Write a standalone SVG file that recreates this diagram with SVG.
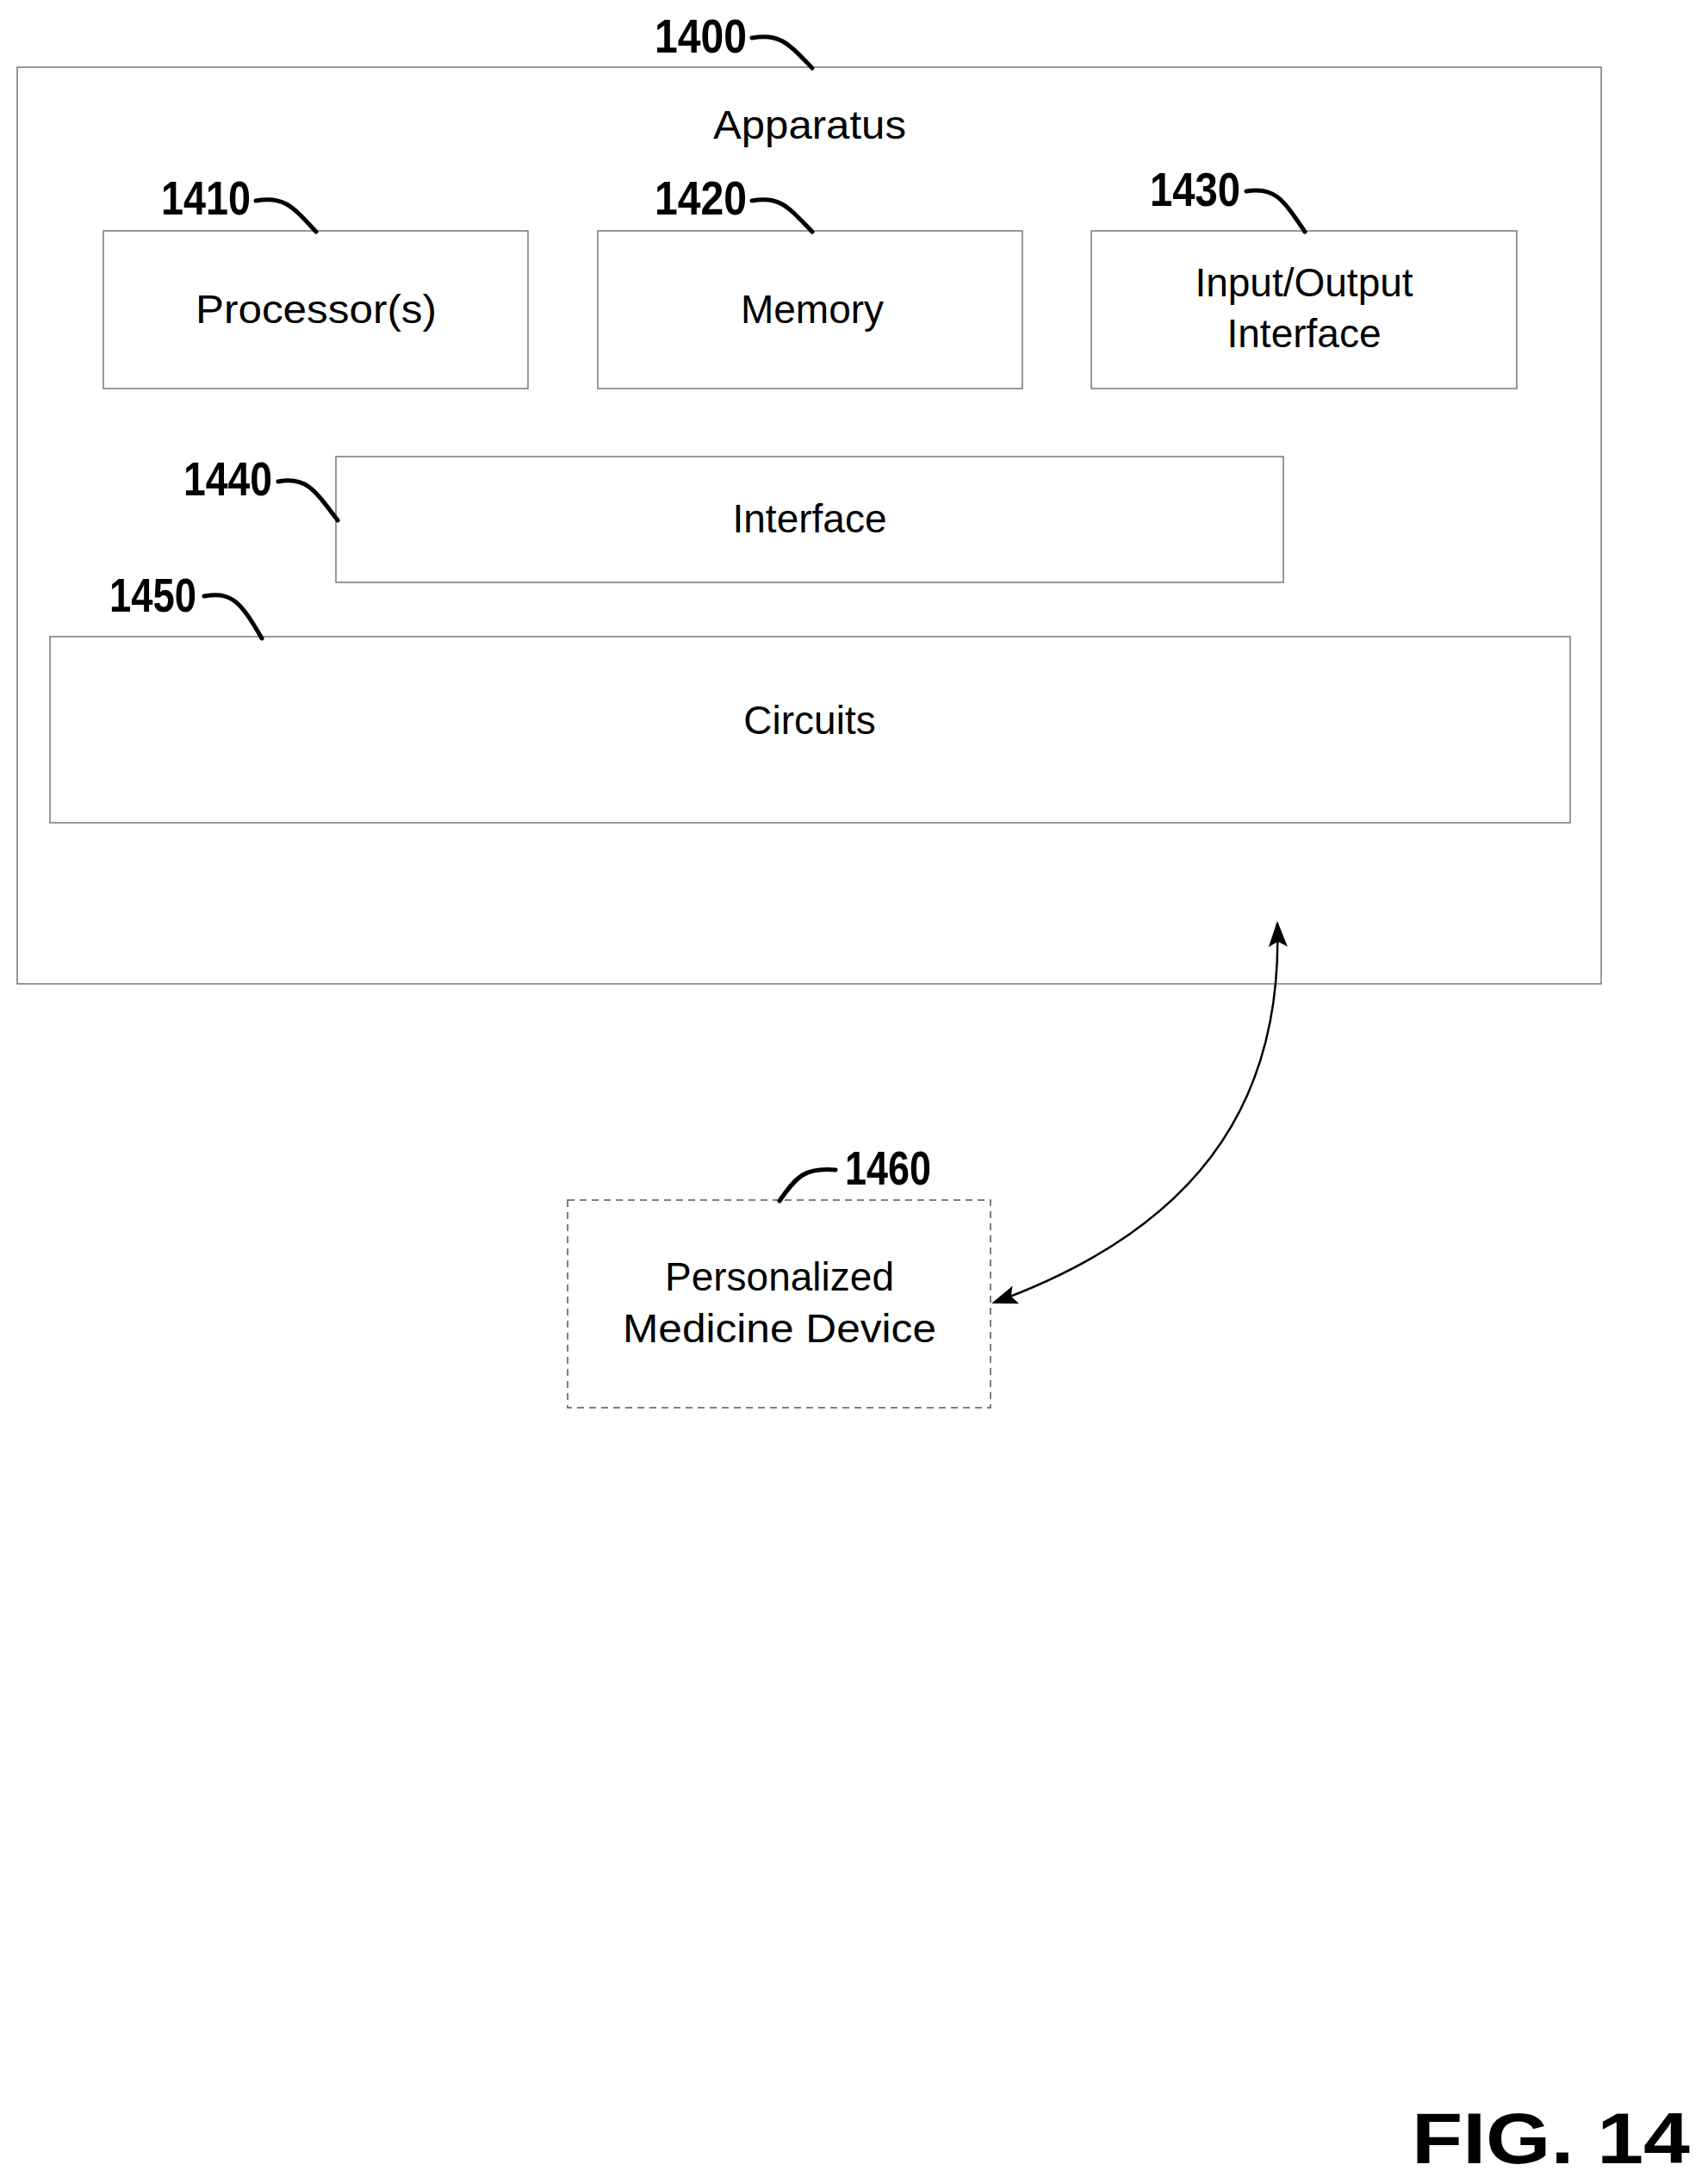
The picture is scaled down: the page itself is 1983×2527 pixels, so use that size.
<svg xmlns="http://www.w3.org/2000/svg" width="1983" height="2527" viewBox="0 0 1983 2527">
<defs>
<style>
.box{fill:#fff;stroke:#777;stroke-width:1.5}
.t{font-family:"Liberation Sans",Arial,sans-serif;font-size:46px;fill:#000;text-anchor:middle}
.n{font-family:"Liberation Sans",Arial,sans-serif;font-weight:bold;font-size:56px;fill:#000}
.ld{fill:none;stroke:#000;stroke-width:5;stroke-linecap:round}
</style>
<marker id="ah" viewBox="0 0 10 10" refX="9" refY="5" markerWidth="30" markerHeight="22" markerUnits="userSpaceOnUse" orient="auto-start-reverse" preserveAspectRatio="none"><path d="M0,0L10,5L0,10L2,5z" fill="#000"/></marker>
</defs>
<rect width="1983" height="2527" fill="#fff"/>
<g id="n1400">
<rect class="box" x="20" y="78" width="1839" height="1064"/>
<text class="n" x="760" y="61" textLength="107" lengthAdjust="spacingAndGlyphs">1400</text>
<path class="ld" d="M873,44 C905,38 915,50 943,79"/>
<text class="t" x="940" y="161" textLength="224" lengthAdjust="spacingAndGlyphs">Apparatus</text>
</g>
<g id="n1410">
<rect class="box" x="120" y="268" width="493" height="183"/>
<text class="t" x="367" y="375" textLength="280" lengthAdjust="spacingAndGlyphs">Processor(s)</text>
<text class="n" x="187" y="249" textLength="104" lengthAdjust="spacingAndGlyphs">1410</text>
<path class="ld" d="M297,233 C330,227 340,240 367,269"/>
</g>
<g id="n1420">
<rect class="box" x="694" y="268" width="493" height="183"/>
<text class="t" x="943" y="375">Memory</text>
<text class="n" x="760" y="249" textLength="107" lengthAdjust="spacingAndGlyphs">1420</text>
<path class="ld" d="M873,233 C905,227 915,240 943,269"/>
</g>
<g id="n1430">
<rect class="box" x="1267" y="268" width="494" height="183"/>
<text class="t" x="1514" y="344">Input/Output</text>
<text class="t" x="1514" y="403">Interface</text>
<text class="n" x="1335" y="239" textLength="105" lengthAdjust="spacingAndGlyphs">1430</text>
<path class="ld" d="M1447,222 C1480,216 1490,232 1515,269"/>
</g>
<g id="n1440">
<rect class="box" x="390" y="530" width="1100" height="146"/>
<text class="t" x="940" y="618">Interface</text>
<text class="n" x="213" y="575" textLength="103" lengthAdjust="spacingAndGlyphs">1440</text>
<path class="ld" d="M323,559 C355,553 365,568 392,604"/>
</g>
<g id="n1450">
<rect class="box" x="58" y="739" width="1765" height="216"/>
<text class="t" x="940" y="852">Circuits</text>
<text class="n" x="127" y="710" textLength="101" lengthAdjust="spacingAndGlyphs">1450</text>
<path class="ld" d="M237,692 C270,686 280,700 304,741"/>
</g>
<g id="n1460">
<rect x="659" y="1393" width="491" height="241" fill="#fff" stroke="#555" stroke-width="1.5" stroke-dasharray="8,6"/>
<text class="t" x="905" y="1498">Personalized</text>
<text class="t" x="905" y="1558" textLength="364" lengthAdjust="spacingAndGlyphs">Medicine Device</text>
<text class="n" x="981" y="1375" textLength="100" lengthAdjust="spacingAndGlyphs">1460</text>
<path class="ld" d="M970,1358 C935,1355 925,1365 905,1394"/>
</g>
<g id="connectors">
<path d="M1483,1072 C1490,1290 1380,1430 1154,1512" fill="none" stroke="#000" stroke-width="2.5" marker-start="url(#ah)" marker-end="url(#ah)"/>
</g>
<text x="1639" y="2511" font-family="Liberation Sans,Arial,sans-serif" font-weight="bold" font-size="84" textLength="323" lengthAdjust="spacingAndGlyphs">FIG. 14</text>
</svg>
